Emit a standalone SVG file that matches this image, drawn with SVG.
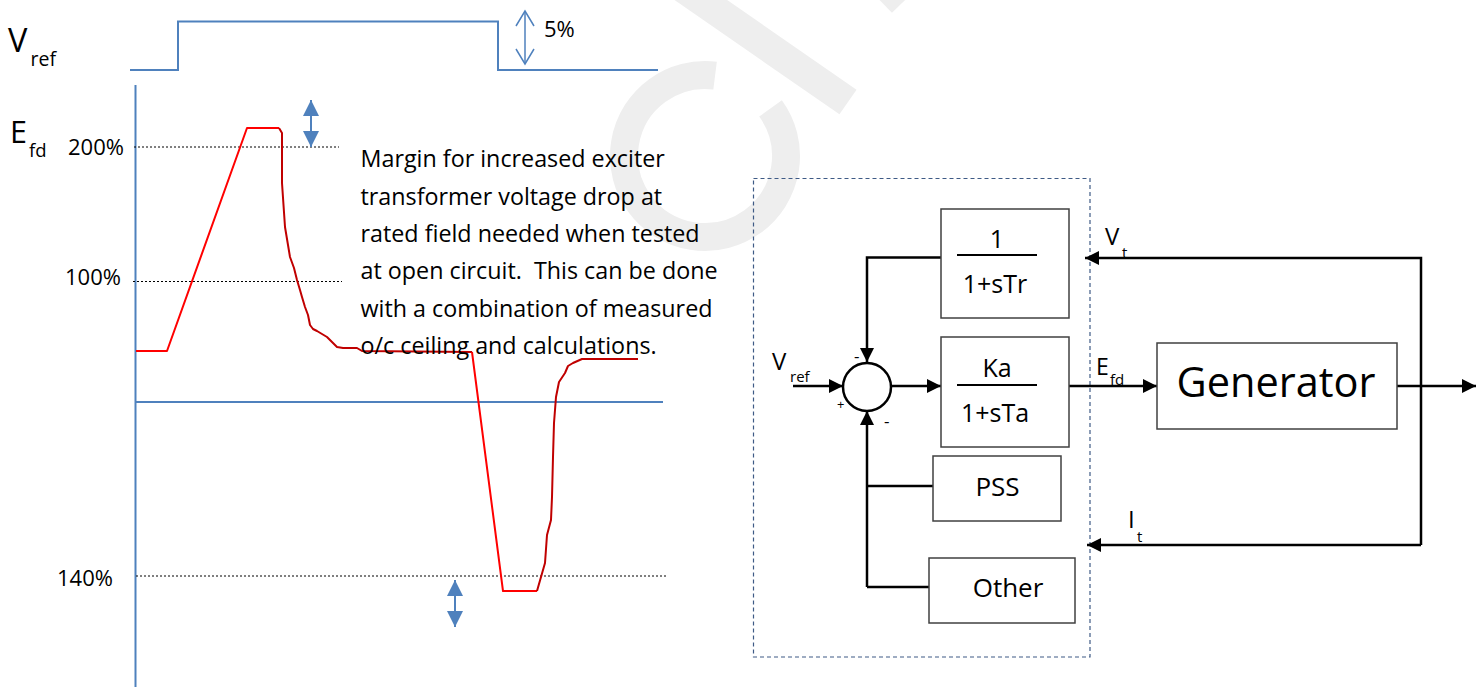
<svg xmlns="http://www.w3.org/2000/svg" width="1484" height="687" viewBox="0 0 1484 687">
<style>
text{font-family:"Open Sans","Liberation Sans",sans-serif;fill:#000;white-space:pre}
.wm{stroke:#eeeeee;fill:none}
.blue{stroke:#4f81bd;stroke-width:2;fill:none}
.dot{stroke:#000;stroke-width:1;stroke-dasharray:2 2;fill:none}
.red{stroke:#ff0000;stroke-width:2;fill:none;stroke-linejoin:round}
.dred{stroke:#c00000;stroke-width:2;fill:none;stroke-linejoin:round}
.box{fill:#fff;stroke:#404040;stroke-width:1.5}
.wire{stroke:#000;stroke-width:2.5;fill:none}
.frac{stroke:#000;stroke-width:2}
.para{font-size:23.3px}
.lab{font-size:22px}
.blk{font-size:25px}
.sub{font-size:15px}
</style>
<defs>
<marker id="ah" viewBox="0 0 14 14" refX="14" refY="7" markerWidth="14" markerHeight="14" markerUnits="userSpaceOnUse" orient="auto">
<path d="M0,0 L14,7 L0,14 z" fill="#000"/>
</marker>
<marker id="bh" viewBox="0 0 16 16" refX="16" refY="8" markerWidth="16" markerHeight="16" markerUnits="userSpaceOnUse" orient="auto-start-reverse">
<path d="M0,0 L16,8 L0,16 z" fill="#4f81bd"/>
</marker>
<marker id="oh" viewBox="-1 -1 18 20" refX="15" refY="9" markerWidth="18" markerHeight="20" markerUnits="userSpaceOnUse" orient="auto-start-reverse">
<path d="M0,0 L15,9 L0,18" fill="none" stroke="#4f81bd" stroke-width="1.5"/>
</marker>
</defs>
<rect width="1484" height="687" fill="#fff"/>

<g id="watermark">
<circle class="wm" cx="705" cy="156" r="81" stroke-width="28" stroke-dasharray="442 67" transform="rotate(-36 705 156)"/>
<line class="wm" x1="672" y1="-20" x2="848" y2="102" stroke-width="30"/>
<line class="wm" x1="872" y1="-28" x2="902" y2="3" stroke-width="28"/>
</g>

<g id="chart">
<path class="blue" d="M130,70 H178 V21.5 H498 V70 H658"/>
<path d="M525,11 V64" stroke="#4f81bd" stroke-width="1.5" marker-start="url(#oh)" marker-end="url(#oh)"/>
<text x="544" y="37" class="lab">5%</text>
<text x="8" y="51.7" font-size="32.5">V</text>
<text x="30.5" y="65.7" font-size="19.5">ref</text>
<path class="blue" d="M135.5,85 V687"/>
<path class="blue" d="M136,402 H663"/>
<text x="10" y="143.3" font-size="30.5">E</text>
<text x="29" y="157.3" font-size="18.5">fd</text>
<text x="68" y="155" class="lab">200%</text>
<text x="65" y="285" class="lab">100%</text>
<text x="57" y="585.5" class="lab">140%</text>
<path class="dot" d="M134,147 H339"/>
<path class="dot" d="M133,281.5 H342"/>
<path class="dot" d="M136,576 H668"/>
<path d="M311,100 V147" stroke="#4f81bd" stroke-width="2" marker-start="url(#bh)" marker-end="url(#bh)"/>
<path d="M455,580 V627" stroke="#4f81bd" stroke-width="2" marker-start="url(#bh)" marker-end="url(#bh)"/>
<path class="red" d="M136,351 H167 L247,128 H279"/>
<path class="dred" d="M279,128 L282,133 L282,183 L285,227 L288,245 L290,257 L294,268 L297,280 L300,290 L302,297 L305,307 L308,315 L310,325 L313,329 L317,331 L322,334 L327,337 L332,342 L337,347 L343,348 L357,348 L362,351 L472,352"/>
<path class="red" d="M472,352 L503,591 H537"/>
<path class="dred" d="M537,591 L545,563 L547,535 L551,520 L552,497 L553,457 L554,423 L556,397 L559,382 L565,373 L568,366 L573,363 L582,359 H638"/>
<g class="para">
<text x="360.5" y="167.3">Margin for increased exciter</text>
<text x="360.5" y="204.6">transformer voltage drop at</text>
<text x="360.5" y="241.9">rated field needed when tested</text>
<text x="360.5" y="279.2">at open circuit.  This can be done</text>
<text x="360.5" y="316.5">with a combination of measured</text>
<text x="360.5" y="353.8">o/c ceiling and calculations.</text>
</g>
</g>

<rect id="frame" x="753.5" y="178.5" width="336.5" height="478.5" fill="none" stroke="#3e5a85" stroke-width="1.2" stroke-dasharray="4 3"/>

<g id="connectors">
<path class="wire" d="M793,386 H843" marker-end="url(#ah)"/>
<path class="wire" d="M891,386 H941" marker-end="url(#ah)"/>
<path class="wire" d="M941,257.5 H867 V362" marker-end="url(#ah)"/>
<path class="wire" d="M867,587 V411" marker-end="url(#ah)"/>
<path class="wire" d="M933,486 H867"/>
<path class="wire" d="M929,587 H867"/>
<path class="wire" d="M1069,386 H1157" marker-end="url(#ah)"/>
<path class="wire" d="M1397,386 H1476" marker-end="url(#ah)"/>
<path class="wire" d="M1421,545 V258 H1085" marker-end="url(#ah)"/>
<path class="wire" d="M1421,545 H1087" marker-end="url(#ah)"/>
<text x="772" y="370" font-size="24">V</text>
<text x="790" y="382" class="sub">ref</text>
<text x="1096" y="375" font-size="23">E</text>
<text x="1110" y="385" class="sub">fd</text>
<text x="1105" y="245" font-size="24">V</text>
<text x="1122" y="258" class="sub">t</text>
<text x="1128" y="528" font-size="24">I</text>
<text x="1137" y="542" class="sub">t</text>
</g>

<g id="n-sum">
<circle cx="867" cy="387" r="24" fill="#fff" stroke="#000" stroke-width="2.5"/>
<text x="837" y="409" font-size="13">+</text>
<text x="854" y="362" font-size="17">-</text>
<text x="884" y="427" font-size="17">-</text>
</g>

<g id="n-tr">
<rect class="box" x="941" y="209" width="128" height="109"/>
<line class="frac" x1="957" y1="255" x2="1037" y2="255"/>
<text x="997" y="248" class="blk" text-anchor="middle">1</text>
<text x="995" y="293" class="blk" text-anchor="middle">1+sTr</text>
</g>

<g id="n-ka">
<rect class="box" x="941" y="337" width="128" height="110"/>
<line class="frac" x1="957" y1="385" x2="1037" y2="385"/>
<text x="997" y="377" class="blk" text-anchor="middle">Ka</text>
<text x="995" y="422" class="blk" text-anchor="middle">1+sTa</text>
</g>

<g id="n-pss">
<rect class="box" x="933" y="456" width="128" height="65"/>
<text x="997.5" y="496" font-size="26" text-anchor="middle">PSS</text>
</g>

<g id="n-other">
<rect class="box" x="929" y="558" width="146" height="65"/>
<text x="1008" y="597" font-size="26" text-anchor="middle">Other</text>
</g>

<g id="n-gen">
<rect class="box" x="1157" y="343" width="240" height="86"/>
<text x="1276" y="397" font-size="41.5" text-anchor="middle">Generator</text>
</g>
</svg>
